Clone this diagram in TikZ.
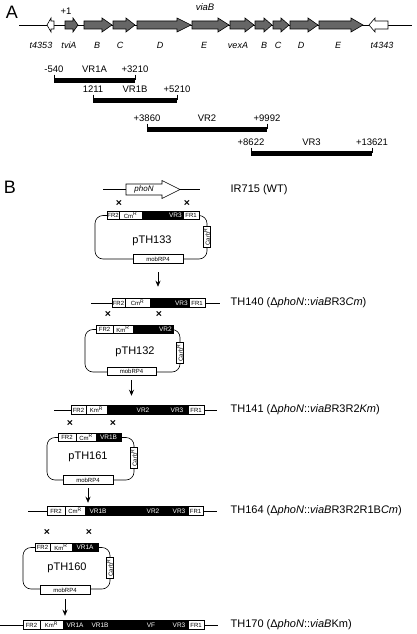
\documentclass[tikz,border=0pt]{standalone}
\usepackage{fontspec}
\setmainfont{Liberation Sans}
\usetikzlibrary{arrows, arrows.meta, positioning}

\begin{document}
\begin{tikzpicture}[
    x = 1pt, y = -1pt, % one unit per pixel, y runs down
    > = {Stealth[length=6pt, width=5pt]}, % arrow head style
    semithick, % line style
    node distance = 0pt % parts of a construct touch
  ]

  \tikzstyle{part}=[draw, fill=white, inner sep=0pt, outer sep=0pt, minimum height=8.5pt, font=\fontsize{6}{7}\selectfont]
  \tikzstyle{insert}=[part, fill=black]
  \tikzstyle{vr}=[inner sep=0pt, text=white, font=\fontsize{6.5}{7}\selectfont]
  \tikzstyle{carb}=[part, rotate=90, minimum width=21pt, minimum height=6.5pt]
  \tikzstyle{cross}=[inner sep=0pt, font=\bfseries\fontsize{10.5}{10}\selectfont]
  \tikzstyle{strain}=[anchor=west, font=\fontsize{11}{13}\selectfont]
  \tikzstyle{plasmid}=[font=\fontsize{11}{13}\selectfont]
  \tikzstyle{gene}=[font=\itshape\fontsize{9}{11}\selectfont]
  \tikzstyle{bpos}=[font=\fontsize{9.5}{11}\selectfont]

  \useasboundingbox (0,0) rectangle (416,634);

  % panel A
  \node[font=\fontsize{18}{20}\selectfont] (pa) at (12,12) {A};
  \node[bpos] (plus1) at (66,11) {+1};
  \node[gene, font=\itshape\fontsize{9.5}{11}\selectfont] (viab) at (205,7) {viaB};

  \draw (19,25) -- (412,25);
  \foreach \tl/\tp/\hd/\col in {54/47/-4/white, 65/78/5/black!60, 84/112/10/black!60,
      113/135/9/black!60, 137/191/14/black!60, 192/229/11/black!60, 230/254/9/black!60,
      255/272/8/black!60, 273/289/8/black!60, 290/318/10/black!60, 319/363/12/black!60,
      388/369/-6/white}
    \draw[fill=\col] (\tl,21) -- ({\tp-(\hd)},21) -- ({\tp-(\hd)},18) -- (\tp,25)
      -- ({\tp-(\hd)},32) -- ({\tp-(\hd)},29) -- (\tl,29) -- cycle;

  \foreach \x/\g [count=\i] in {41/t4353, 69/tviA, 97/B, 120/C, 160/D, 204/E,
      238/vexA, 264/B, 278/C, 301/D, 338/E, 382/t4343}
    \node[gene] (gl\i) at (\x,45) {\g};

  \foreach \a/\b/\y/\na/\nm/\nb [count=\i] in {54/135/80/-540/VR1A/+3210,
      93/177/100/1211/VR1B/+5210, 147/267/129/+3860/VR2/+9992,
      251/372/153/+8622/VR3/+13621} {
    \fill (\a,\y-2.5) rectangle (\b,\y+2.5);
    \draw (\a,\y-5.5) -- (\a,\y) (\b,\y-5.5) -- (\b,\y);
    \node[bpos] (bl\i) at (\a,\y-11) {\na};
    \node[bpos] (bm\i) at ({(\a+\b)/2},\y-11) {\nm};
    \node[bpos] (br\i) at (\b,\y-11) {\nb};
  }

  % panel B
  \node[font=\fontsize{18}{20}\selectfont] (pb) at (10,187) {B};

  \draw (103,189.5) -- (200,189.5);
  \draw[fill=white] (126,184) -- (162,184) -- (162,180.5) -- (180,189.5)
    -- (162,198.5) -- (162,195) -- (126,195) -- cycle;
  \node[font=\itshape\fontsize{8}{9}\selectfont] (phon) at (144,189.5) {phoN};
  \node[strain] (wt) at (227,189.5) {IR715 (WT)};
  \node[cross] (x1a) at (119,203) {×};
  \node[cross] (x1b) at (187,203) {×};

  % pTH133
  \node[part, minimum width=12pt] (p1fr2) at (113,215.5) {FR2};
  \node[part, minimum width=23pt, right=of p1fr2] (p1cm) {Cm\textsuperscript{R}};
  \node[insert, minimum width=41pt, right=of p1cm] (p1ins) {};
  \node[part, minimum width=16pt, right=of p1ins] (p1fr1) {FR1};
  \node[vr, left=1pt of p1ins.east] {VR3};
  \draw[rounded corners=8pt] (p1fr2.west) -- (95,215.5) -- (95,259) -- (207,259)
    -- (207,215.5) -- (p1fr1.east);
  \node[part, minimum width=50pt] (p1mob) at (158,259) {mobRP4};
  \node[carb] (p1carb) at (207,237) {Carb\textsuperscript{R}};
  \node[plasmid] (p1) at (152,241) {pTH133};

  % TH140
  \node[part, minimum width=13pt] (r1fr2) at (118.5,303) {FR2};
  \node[part, minimum width=25pt, right=of r1fr2] (r1cm) {Cm\textsuperscript{R}};
  \node[insert, minimum width=39pt, right=of r1cm] (r1ins) {};
  \node[part, minimum width=16pt, right=of r1ins] (r1fr1) {FR1};
  \node[vr, left=1pt of r1ins.east] {VR3};
  \draw (r1fr2.west) -- +(-21,0) (r1fr1.east) -- +(15,0);
  \node[strain] (th140) at (227,303) {TH140 (Δ\textit{phoN}::\textit{viaB}R3\textit{Cm})};
  \draw[->, shorten <=9pt, shorten >=12pt] (p1mob.south) -- (p1mob.south |- r1fr2.north);
  \node[cross] (x2a) at (108,314) {×};
  \node[cross] (x2b) at (159,314) {×};

  % pTH132
  \node[part, minimum width=17pt] (p2fr2) at (104.5,329.5) {FR2};
  \node[part, minimum width=20pt, right=of p2fr2] (p2km) {Km\textsuperscript{R}};
  \node[insert, minimum width=40pt, right=of p2km] (p2ins) {};
  \node[vr, left=1pt of p2ins.east] {VR2};
  \draw[rounded corners=8pt] (p2fr2.west) -- (85,329.5) -- (85,372) -- (180,372)
    -- (180,329.5) -- (p2ins.east);
  \node[part, minimum width=49pt] (p2mob) at (131.5,371.5) {mobRP4};
  \node[carb] (p2carb) at (180,353) {Carb\textsuperscript{R}};
  \node[plasmid] (p2) at (135,352) {pTH132};

  % TH141
  \node[part, minimum width=15pt] (r2fr2) at (78.5,410) {FR2};
  \node[part, minimum width=21pt, right=of r2fr2] (r2km) {Km\textsuperscript{R}};
  \node[insert, minimum width=81pt, right=of r2km] (r2ins) {};
  \node[part, minimum width=16pt, right=of r2ins] (r2fr1) {FR1};
  \node[vr] at (143,410) {VR2};
  \node[vr] at (177,410) {VR3};
  \draw (r2fr2.west) -- +(-17,0) (r2fr1.east) -- +(13,0);
  \node[strain] (th141) at (227,410) {TH141 (Δ\textit{phoN}::\textit{viaB}R3R2\textit{Km})};
  \draw[->, shorten <=4pt, shorten >=10pt] (p2mob.south) -- (p2mob.south |- r2fr2.north);
  \node[cross] (x3a) at (70,423) {×};
  \node[cross] (x3b) at (113,423) {×};

  % pTH161
  \node[part, minimum width=18pt] (p3fr2) at (67,437.5) {FR2};
  \node[part, minimum width=20pt, right=of p3fr2] (p3cm) {Cm\textsuperscript{R}};
  \node[insert, minimum width=25pt, right=of p3cm] (p3ins) {};
  \node[vr] at (p3ins) {VR1B};
  \draw[rounded corners=8pt] (p3fr2.west) -- (47,437.5) -- (47,480) -- (134,480)
    -- (134,437.5) -- (p3ins.east);
  \node[part, minimum width=50pt] (p3mob) at (88,480) {mobRP4};
  \node[carb] (p3carb) at (134,458) {Carb\textsuperscript{R}};
  \node[plasmid] (p3) at (88,457) {pTH161};

  % TH164
  \node[part, minimum width=18pt] (r3fr2) at (56,511) {FR2};
  \node[part, minimum width=20pt, right=of r3fr2] (r3cm) {Cm\textsuperscript{R}};
  \node[insert, minimum width=103pt, right=of r3cm] (r3ins) {};
  \node[part, minimum width=15pt, right=of r3ins] (r3fr1) {FR1};
  \node[vr] at (98,511) {VR1B};
  \node[vr] at (153,511) {VR2};
  \node[vr] at (179,511) {VR3};
  \draw (r3fr2.west) -- +(-19,0) (r3fr1.east) -- +(14,0);
  \node[strain] (th164) at (227,511) {TH164 (Δ\textit{phoN}::\textit{viaB}R3R2R1B\textit{Cm})};
  \draw[->, shorten <=4pt, shorten >=4pt] (p3mob.south) -- (p3mob.south |- r3fr2.north);
  \node[cross] (x4a) at (47,532) {×};
  \node[cross] (x4b) at (89,532) {×};

  % pTH160
  \node[part, minimum width=15pt] (p4fr2) at (42.5,547.5) {FR2};
  \node[part, minimum width=22pt, right=of p4fr2] (p4km) {Km\textsuperscript{R}};
  \node[insert, minimum width=26pt, right=of p4km] (p4ins) {};
  \node[vr] at (p4ins) {VR1A};
  \draw[rounded corners=8pt] (p4fr2.west) -- (23,547.5) -- (23,589) -- (110,589)
    -- (110,547.5) -- (p4ins.east);
  \node[part, minimum width=50pt] (p4mob) at (65,590) {mobRP4};
  \node[carb] (p4carb) at (110,568) {Carb\textsuperscript{R}};
  \node[plasmid] (p4) at (67,568) {pTH160};

  % TH170
  \node[part, minimum width=17pt] (r4fr2) at (31.5,625) {FR2};
  \node[part, minimum width=23pt, right=of r4fr2] (r4km) {Km\textsuperscript{R}};
  \node[insert, minimum width=125pt, right=of r4km] (r4ins) {};
  \node[part, minimum width=16pt, right=of r4ins] (r4fr1) {FR1};
  \node[vr] at (75,625) {VR1A};
  \node[vr] at (100,625) {VR1B};
  \node[vr] at (151,625) {VF};
  \node[vr] at (179,625) {VR3};
  \draw (r4fr2.west) -- +(-23,0) (r4fr1.east) -- +(14,0);
  \node[strain] (th170) at (227,625) {TH170 (Δ\textit{phoN}::\textit{viaB}Km)};
  \draw[->, shorten <=5pt, shorten >=5pt] (p4mob.south) -- (p4mob.south |- r4fr2.north);

\end{tikzpicture}
\end{document}
